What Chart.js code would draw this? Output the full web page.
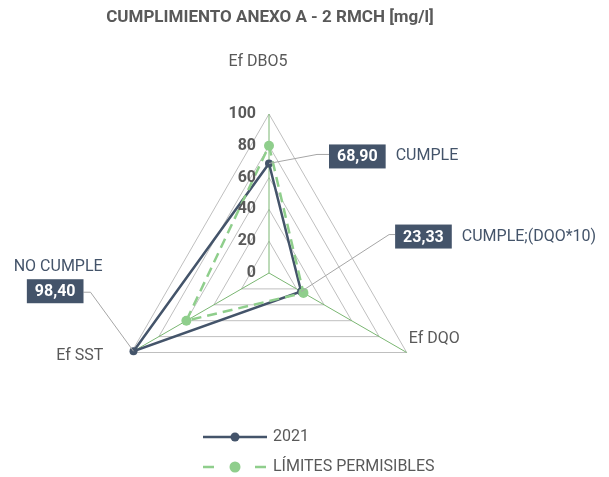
<!DOCTYPE html>
<html>
<head>
<meta charset="utf-8">
<script src="https://cdn.jsdelivr.net/npm/chart.js@4/dist/chart.umd.min.js"></script>
<style>
html,body{margin:0;padding:0;background:#fff;}
canvas{display:block;}
</style>
</head>
<body>
<canvas id="c" width="609" height="477"></canvas>
<script>
const chartTitle = 'CUMPLIMIENTO ANEXO A - 2 RMCH [mg/l]';
const categories = ['Ef DBO5', 'Ef DQO', 'Ef SST'];
const seriesNames = ['2021', 'LÍMITES PERMISIBLES'];
const values2021 = [68.90, 23.33, 98.40];
const limitValues = [80, 25, 60];
const tickValues = [0, 20, 40, 60, 80, 100];
const statusLabels = ['CUMPLE', 'CUMPLE;(DQO*10)', 'NO CUMPLE'];

const FONT = 'Roboto, "Liberation Sans", sans-serif';
const DARK = '#44546a';
const GREEN = '#8fce8c';
const GREY_TEXT = '#595959';

function fmt(v) { return v.toFixed(2).replace('.', ','); }

// placement offsets (styling) for point labels and callouts, relative to library-computed positions
const pointLabelPlace = [
  {dx: -11, dy: -52, align: 'center'},
  {dx: 2, dy: -14, align: 'left'},
  {dx: -28, dy: 3, align: 'right'}
];
const calloutPlace = [
  {ex: 48, ey: -9, bx: 60, by: -7, side: 'right'},
  {ex: 88, ey: -57, bx: 94, by: -55, side: 'right'},
  {ex: -43, ey: -59, bx: -50, by: -60, side: 'above'}
];

const overlay = {
  id: 'overlay',
  afterDatasetsDraw(chart) {
    const ctx = chart.ctx;
    const s = chart.scales.r;
    ctx.save();
    // tick labels
    ctx.font = 'bold 16px ' + FONT;
    ctx.fillStyle = GREY_TEXT;
    ctx.textAlign = 'right';
    ctx.textBaseline = 'middle';
    tickValues.forEach(t => {
      const p = s.getPointPositionForValue(0, t);
      ctx.fillText(String(t), p.x - 13, p.y);
    });
    // point labels
    ctx.font = '16px ' + FONT;
    categories.forEach((c, i) => {
      const p = s.getPointPosition(i, s.drawingArea);
      const pl = pointLabelPlace[i];
      ctx.textAlign = pl.align;
      ctx.fillText(c, p.x + pl.dx, p.y + pl.dy);
    });
    // callouts
    values2021.forEach((v, i) => {
      const p = s.getPointPositionForValue(i, v);
      const cp = calloutPlace[i];
      const txt = fmt(v);
      ctx.font = 'bold 16px ' + FONT;
      const tw = ctx.measureText(txt).width;
      const bw = tw + 16, bh = 24;
      const elbow = {x: p.x + cp.ex, y: p.y + cp.ey};
      let bxLeft;
      if (cp.bx >= 0) bxLeft = p.x + cp.bx; else bxLeft = p.x + cp.bx - bw;
      const byMid = p.y + cp.by;
      ctx.strokeStyle = '#a6a6a6';
      ctx.lineWidth = 1;
      ctx.beginPath();
      ctx.moveTo(p.x, p.y);
      ctx.lineTo(elbow.x, elbow.y);
      ctx.lineTo(cp.bx >= 0 ? bxLeft : bxLeft + bw, elbow.y);
      ctx.stroke();
      ctx.fillStyle = DARK;
      ctx.fillRect(bxLeft, byMid - bh / 2, bw, bh);
      ctx.fillStyle = '#ffffff';
      ctx.textAlign = 'center';
      ctx.textBaseline = 'middle';
      ctx.fillText(txt, bxLeft + bw / 2, byMid + 1);
      ctx.font = '16px ' + FONT;
      ctx.fillStyle = DARK;
      if (cp.side === 'right') {
        ctx.textAlign = 'left';
        ctx.fillText(statusLabels[i], bxLeft + bw + 10, byMid);
      } else {
        ctx.textAlign = 'center';
        ctx.fillText(statusLabels[i], bxLeft + bw / 2 + 3, byMid - 24);
      }
    });
    // title
    ctx.font = 'bold 17px ' + FONT;
    ctx.fillStyle = GREY_TEXT;
    ctx.textAlign = 'center';
    ctx.textBaseline = 'middle';
    ctx.fillText(chartTitle, 270, 18);
    // legend
    const ds = chart.data.datasets;
    const rows = [437, 467];
    ds.forEach((d, i) => {
      const y = rows[i];
      ctx.strokeStyle = d.borderColor;
      ctx.lineWidth = d.borderWidth;
      ctx.setLineDash(d.borderDash ? [11, 41] : []);
      ctx.beginPath();
      ctx.moveTo(203, y);
      ctx.lineTo(267, y);
      ctx.stroke();
      ctx.setLineDash([]);
      ctx.fillStyle = d.pointBackgroundColor;
      ctx.beginPath();
      ctx.arc(235, y, d.pointRadius + 0.5, 0, Math.PI * 2);
      ctx.fill();
      ctx.font = '16px ' + FONT;
      ctx.fillStyle = GREY_TEXT;
      ctx.textAlign = 'left';
      ctx.fillText(d.label, 273, y);
    });
    ctx.restore();
  }
};

new Chart(document.getElementById('c'), {
  type: 'radar',
  data: {
    labels: categories,
    datasets: [
      {
        label: seriesNames[0],
        data: values2021,
        borderColor: DARK,
        backgroundColor: DARK,
        borderWidth: 2.5,
        pointRadius: 4,
        pointBackgroundColor: DARK,
        pointBorderWidth: 0,
        fill: false,
        order: 1
      },
      {
        label: seriesNames[1],
        data: limitValues,
        borderColor: GREEN,
        backgroundColor: GREEN,
        borderWidth: 2.5,
        borderDash: [10, 6],
        pointRadius: 5,
        pointBackgroundColor: GREEN,
        pointBorderWidth: 0,
        fill: false,
        order: 0
      }
    ]
  },
  options: {
    responsive: false,
    animation: false,
    events: [],
    layout: {padding: {left: 110, right: 181, top: 114, bottom: 45}},
    plugins: {legend: {display: false}, title: {display: false}, tooltip: {enabled: false}},
    elements: {line: {tension: 0}},
    scales: {
      r: {
        min: 0,
        max: 100,
        ticks: {stepSize: 20, display: false},
        pointLabels: {display: false},
        grid: {color: '#bfbfbf', lineWidth: 1},
        angleLines: {color: '#7ab672', lineWidth: 1}
      }
    }
  },
  plugins: [overlay]
});
</script>
</body>
</html>
